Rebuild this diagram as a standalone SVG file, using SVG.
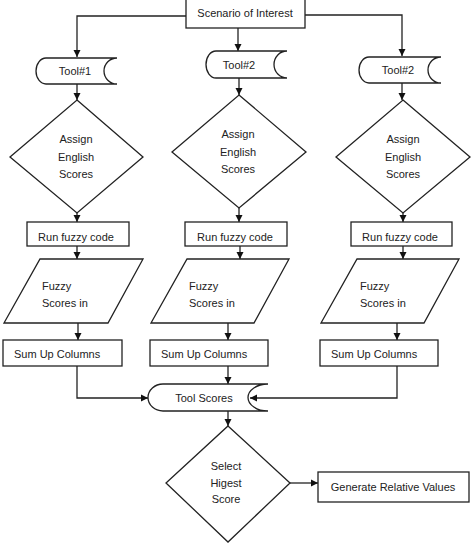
<svg xmlns="http://www.w3.org/2000/svg" width="474" height="550" viewBox="0 0 474 550">
<defs>
<marker id="ah" markerWidth="8" markerHeight="8" refX="7" refY="4" orient="auto" markerUnits="userSpaceOnUse">
<path d="M0,0.5 L7,4 L0,7.5 Z" fill="#111"/>
</marker>
<style>
.s{fill:#fff;stroke:#222;stroke-width:1.3}
.c{fill:none;stroke:#222;stroke-width:1.3;marker-end:url(#ah)}
text{font-family:"Liberation Sans",Arial,sans-serif;font-size:11px;fill:#222}
.m{text-anchor:middle}
</style>
</defs>
<rect width="474" height="550" fill="#fff"/>
<g id="connectors">
<path class="c" d="M186,16 H77 V57"/>
<path class="c" d="M238,28 V51"/>
<path class="c" d="M305,15 H402 V56"/>
<path class="c" d="M77,84 V100"/>
<path class="c" d="M239,78 V95"/>
<path class="c" d="M402,83 V100"/>
<path class="c" d="M77,213 V222"/>
<path class="c" d="M239,208 V222"/>
<path class="c" d="M403,213 V222"/>
<path class="c" d="M77,246 V259"/>
<path class="c" d="M240,246 V259"/>
<path class="c" d="M403,246 V259"/>
<path class="c" d="M78,323 V340"/>
<path class="c" d="M228,323 V340"/>
<path class="c" d="M397,323 V340"/>
<path class="c" d="M77,366 V398 H148"/>
<path class="c" d="M228,366 V384"/>
<path class="c" d="M397,366 V398 H250"/>
<path class="c" d="M228,411 V426"/>
<path class="c" d="M290,483 H318"/>
</g>
<g id="scenario">
<rect class="s" x="186" y="-2" width="119" height="30"/>
<text class="m" x="245" y="17">Scenario of Interest</text>
</g>
<g id="tool1">
<path class="s" d="M46,58 L117,58 A13,13 0 0 0 117,84 L46,84 A10,13 0 0 1 46,58 Z"/>
<text class="m" x="75" y="75">Tool#1</text>
</g>
<g id="tool2a">
<path class="s" d="M216,51 L287,51 A13,13.5 0 0 0 287,78 L216,78 A10,13.5 0 0 1 216,51 Z"/>
<text class="m" x="239" y="69">Tool#2</text>
</g>
<g id="tool2b">
<path class="s" d="M369,57 L441,57 A13,13 0 0 0 441,83 L369,83 A10,13 0 0 1 369,57 Z"/>
<text class="m" x="398" y="74">Tool#2</text>
</g>
<g id="assign1">
<polygon class="s" points="77,100 143,157 77,213 10,157"/>
<text class="m" x="76" y="143">Assign</text>
<text class="m" x="76" y="161">English</text>
<text class="m" x="76" y="178">Scores</text>
</g>
<g id="assign2">
<polygon class="s" points="239,95 306,152 239,208 172,152"/>
<text class="m" x="238" y="138">Assign</text>
<text class="m" x="238" y="156">English</text>
<text class="m" x="238" y="173">Scores</text>
</g>
<g id="assign3">
<polygon class="s" points="403,100 470,157 403,213 336,157"/>
<text class="m" x="403" y="143">Assign</text>
<text class="m" x="403" y="161">English</text>
<text class="m" x="403" y="178">Scores</text>
</g>
<g id="run1">
<rect class="s" x="27" y="222" width="102" height="24"/>
<text class="m" x="76" y="241">Run fuzzy code</text>
</g>
<g id="run2">
<rect class="s" x="185" y="222" width="102" height="24"/>
<text class="m" x="235" y="241">Run fuzzy code</text>
</g>
<g id="run3">
<rect class="s" x="351" y="222" width="101" height="24"/>
<text class="m" x="400" y="241">Run fuzzy code</text>
</g>
<g id="fuzzy1">
<polygon class="s" points="40,259 143,259 108,323 4,323"/>
<text x="42" y="290">Fuzzy</text>
<text x="42" y="307">Scores in</text>
</g>
<g id="fuzzy2">
<polygon class="s" points="187,259 289,259 254,323 151,323"/>
<text x="189" y="290">Fuzzy</text>
<text x="189" y="307">Scores in</text>
</g>
<g id="fuzzy3">
<polygon class="s" points="357,259 459,259 424,323 321,323"/>
<text x="360" y="290">Fuzzy</text>
<text x="360" y="307">Scores in</text>
</g>
<g id="sum1">
<rect class="s" x="3" y="340" width="119" height="26"/>
<text x="14" y="358">Sum Up Columns</text>
</g>
<g id="sum2">
<rect class="s" x="150" y="340" width="118" height="26"/>
<text x="161" y="358">Sum Up Columns</text>
</g>
<g id="sum3">
<rect class="s" x="320" y="340" width="118" height="26"/>
<text x="331" y="358">Sum Up Columns</text>
</g>
<g id="toolscores">
<path class="s" d="M163,384 L268,384 A20,13.5 0 0 0 268,411 L163,411 A15,13.5 0 0 1 163,384 Z"/>
<text class="m" x="204" y="402">Tool Scores</text>
</g>
<g id="select">
<polygon class="s" points="228,426 290,483 228,542 166,483"/>
<text class="m" x="226" y="470">Select</text>
<text class="m" x="226" y="487">Higest</text>
<text class="m" x="226" y="503">Score</text>
</g>
<g id="generate">
<rect class="s" x="318" y="472" width="151" height="30"/>
<text class="m" x="393" y="491">Generate Relative Values</text>
</g>
</svg>
